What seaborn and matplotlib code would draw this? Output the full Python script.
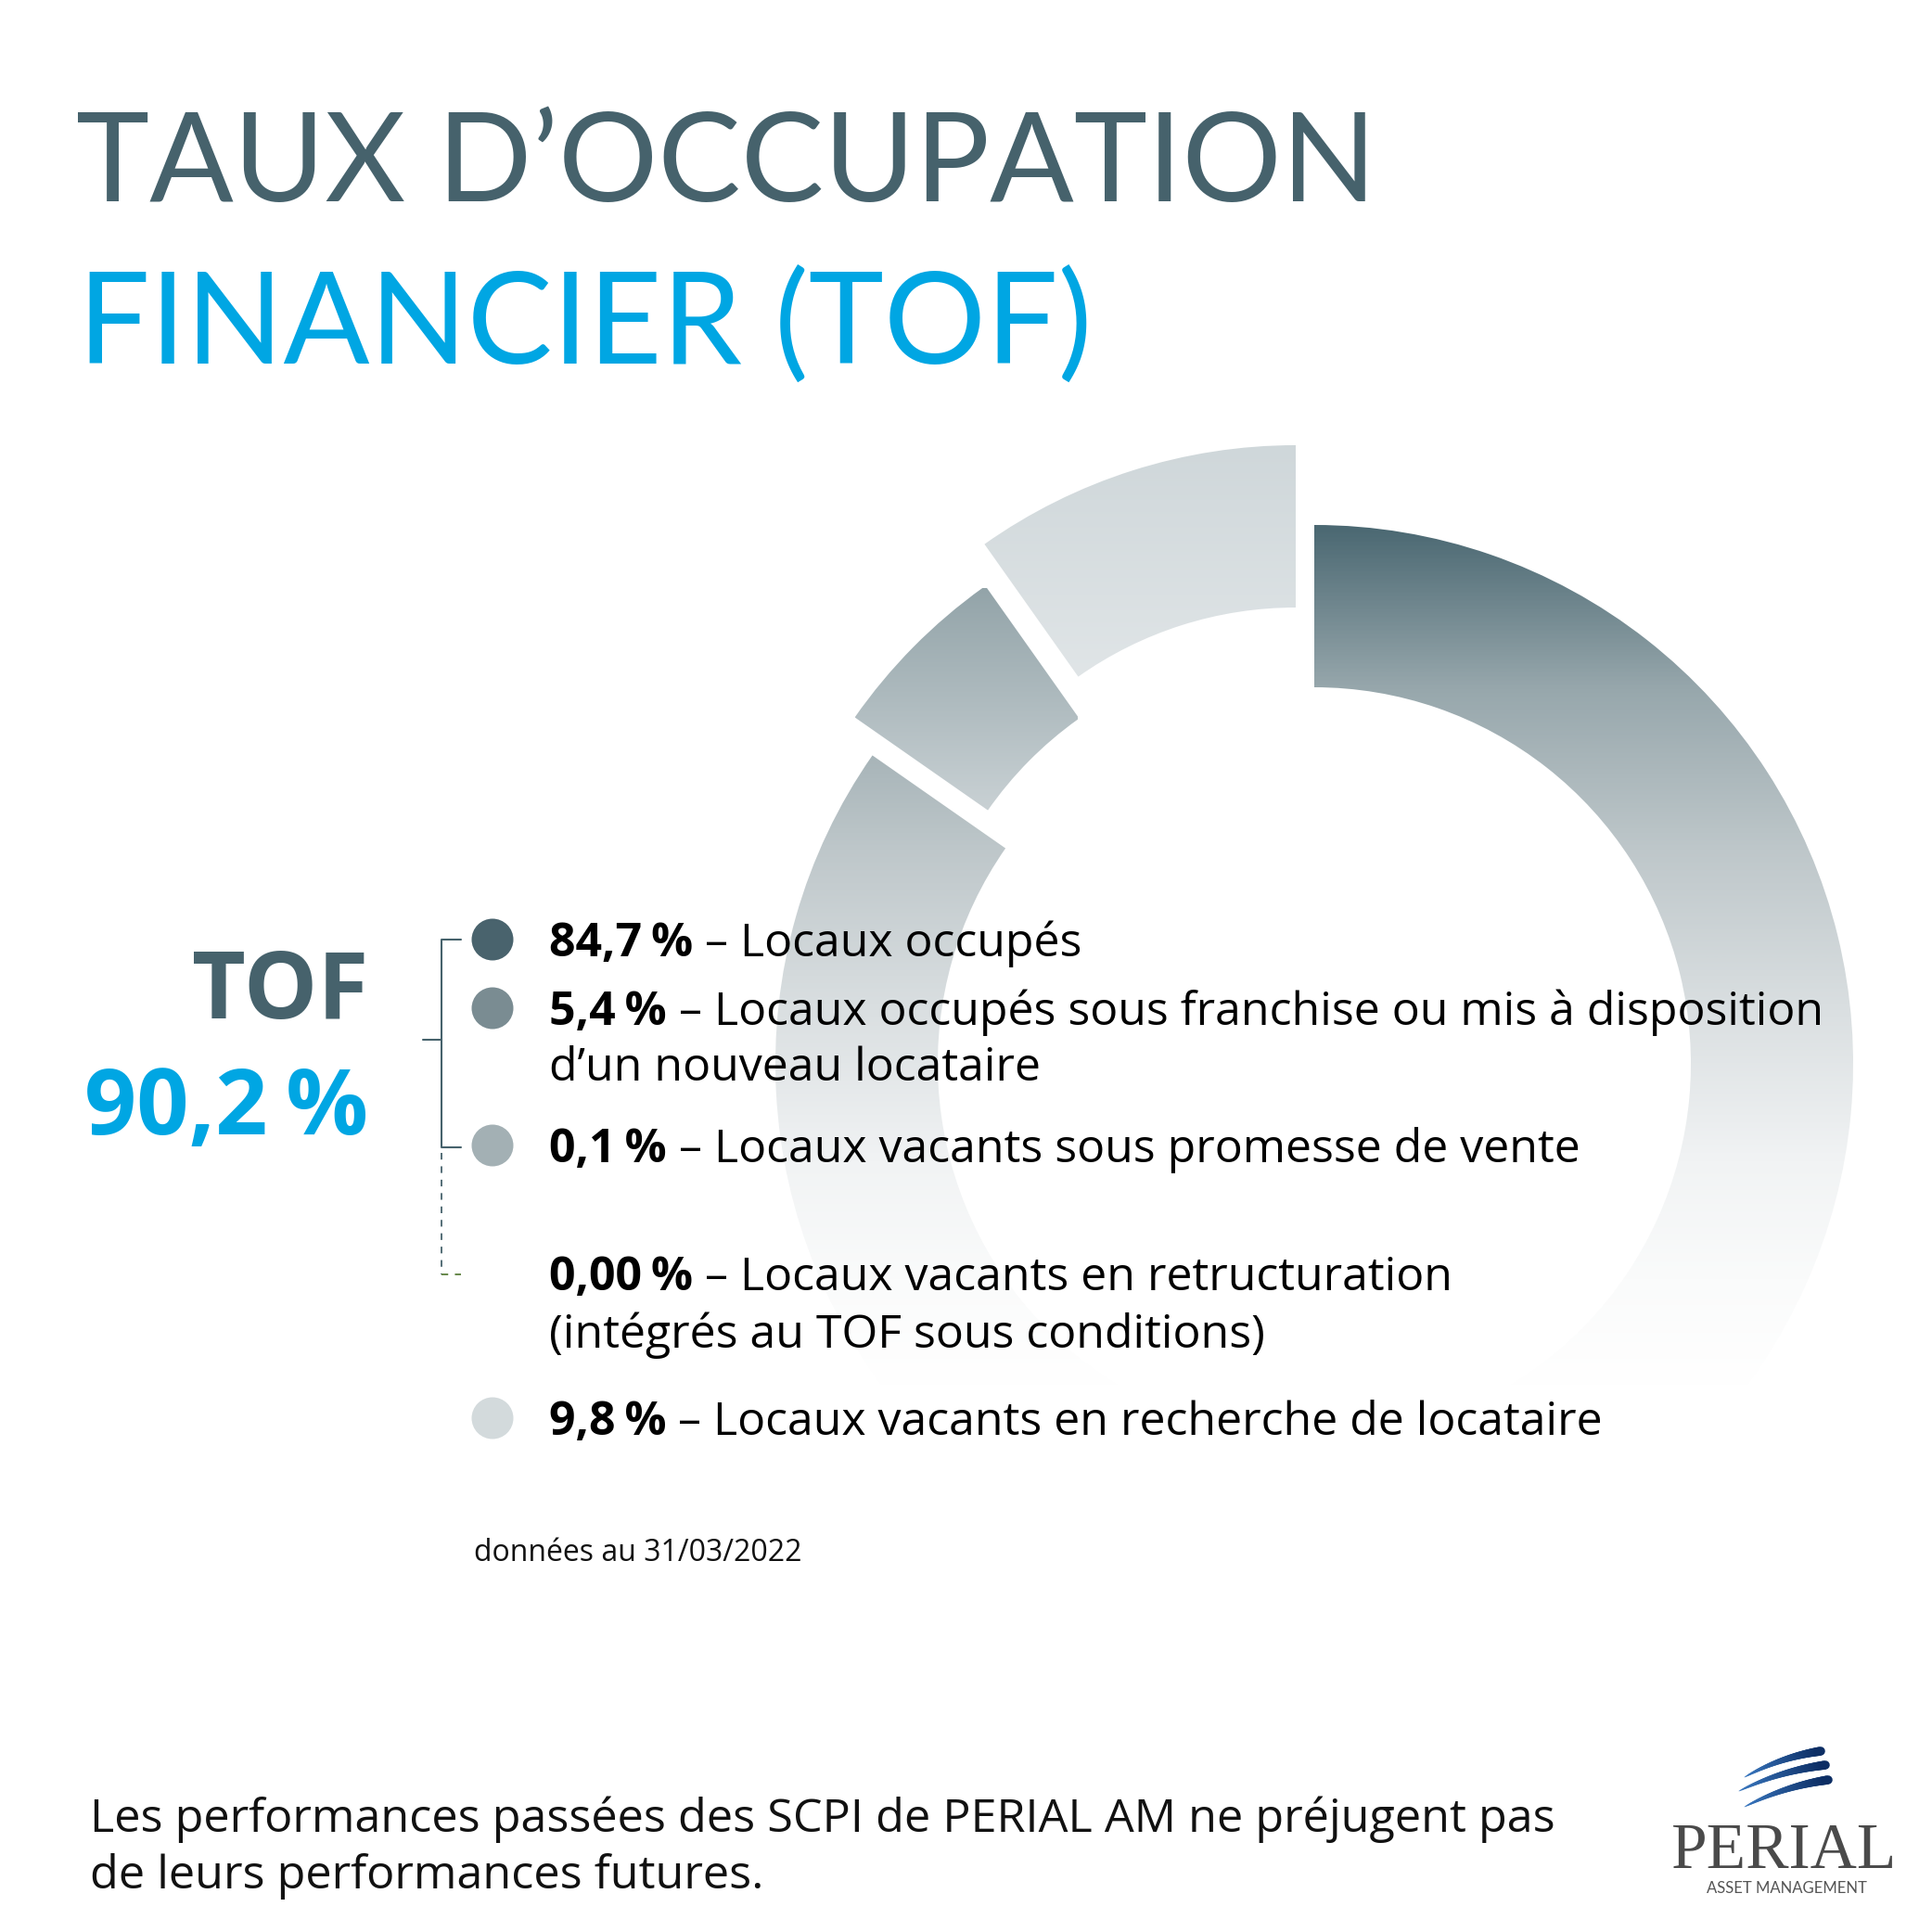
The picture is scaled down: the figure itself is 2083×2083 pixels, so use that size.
import numpy as np
import matplotlib
matplotlib.use("Agg")
import matplotlib.pyplot as plt
import seaborn as sns
from matplotlib.colors import LinearSegmentedColormap
from matplotlib.collections import LineCollection
from matplotlib.path import Path

# données (TOF au 31/03/2022)
segments = ["Locaux occupés", "Franchise / mise à disposition", "Promesse de vente", "Recherche de locataire"]
valeurs = [84.7, 5.4, 0.1, 9.8]
legende_pct = ["84,7\u2009%", "5,4\u2009%", "0,1\u2009%", "0,00\u2009%", "9,8\u2009%"]
legende_txt = [
    ["Locaux occupés"],
    ["Locaux occupés sous franchise ou mis à disposition", "d’un nouveau locataire"],
    ["Locaux vacants sous promesse de vente"],
    ["Locaux vacants en retructuration", "(intégrés au TOF sous conditions)"],
    ["Locaux vacants en recherche de locataire"],
]
legende_pastille = [True, True, True, False, True]
couleurs_pastille = ["#49636d", "#7a8c92", "#a3b0b4", None, "#d3dadc"]
titre_1 = "TAUX D’OCCUPATION"
titre_2 = "FINANCIER (TOF)"
date_txt = "données au 31/03/2022"
avertissement = ["Les performances passées des SCPI de PERIAL AM ne préjugent pas",
                 "de leurs performances futures."]

SLATE = "#46626c"
CYAN = "#00a6e3"
H = 2083
CORPS = ["Open Sans", "DejaVu Sans"]

sns.set_theme(style="white")
plt.rcParams["font.family"] = CORPS

fig = plt.figure(figsize=(H / 100, H / 100), dpi=100)

# ---- anneau
ax = fig.add_axes([0, 0, 1, 1])
cx, cy, R, W = 1417, H - 1147, 581, 175
wedges, _ = ax.pie(valeurs, startangle=90, counterclock=False, radius=R, center=(cx, cy),
                   wedgeprops=dict(width=W, linewidth=0, edgecolor="none"))

# décalages des parts (en px)
decalages = [(0, 0), (-19, 41), (-19, 41), (-20, 86)]
for w, (dx, dy) in zip(wedges, decalages):
    w.set_center((cx + dx, cy + dy))
    w.set_facecolor("none")

# dégradés verticaux ; la part de 0,1 % est fondue avec celle de 5,4 %
groupes = [
    ([0], LinearSegmentedColormap.from_list("occ", [(0, "#4b6872"), (0.15, "#97a7ac"), (0.3, "#bec7ca"),
                                                    (0.45, "#dadfe1"), (0.59, "#f1f3f4"), (0.7, "#fafbfb"),
                                                    (0.8, "#ffffff"), (1, "#ffffff")])),
    ([1, 2], sns.blend_palette(["#93a4a9", "#c9d1d4"], as_cmap=True)),
    ([3], sns.blend_palette(["#cfd7da", "#e0e5e7"], as_cmap=True)),
]
grad = np.linspace(0, 1, 512).reshape(-1, 1)
for idx, cmap in groupes:
    chemin = Path.make_compound_path(*[wedges[i].get_path() for i in idx])
    ext = wedges[idx[0]].get_path().get_extents()
    im = ax.imshow(grad, cmap=cmap, extent=(ext.x0, ext.x1, ext.y0, ext.y1),
                   origin="upper", aspect="auto", interpolation="bilinear", zorder=1)
    im.set_clip_path(chemin, transform=ax.transData)

ax.set_xlim(0, H)
ax.set_ylim(0, H)
ax.axis("off")

# ---- textes (coordonnées en px, y vers le bas)
tax = fig.add_axes([0, 0, 1, 1])
tax.set_xlim(0, H)
tax.set_ylim(H, 0)
tax.axis("off")
tax.patch.set_alpha(0)

tax.text(82, 217, titre_1, fontsize=96.5, family=["Lato", "DejaVu Sans"], color=SLATE, va="baseline")
tax.text(84, 392, titre_2, fontsize=99, family=["Lato", "DejaVu Sans"], color=CYAN, va="baseline")

tof = sum(valeurs[:3])
tax.text(397, 1098, "TOF", fontsize=72, fontweight="bold", color=SLATE, ha="right", va="baseline")
tax.text(397, 1223, f"{tof:.1f}".replace(".", ",") + "\u2009%", fontsize=71, fontweight="bold",
         color=CYAN, ha="right", va="baseline")

# accolade
tax.plot([497, 476, 476, 497], [1013, 1013, 1237, 1237], color=SLATE, lw=1.5)
tax.plot([456, 476], [1121, 1121], color=SLATE, lw=1.5)
tax.plot([476, 476], [1243, 1374], color=SLATE, lw=1.3, ls=(0, (4, 4)))
tax.plot([476, 497], [1374, 1374], color="#5b7f3c", lw=1.3, ls=(0, (4, 4)))

# légende
x_txt = 592
bases = [1031, 1105, 1253, 1391, 1547]
bases_2 = [None, 1165, None, 1453, None]
renderer = fig.canvas.get_renderer()
fs_leg = 36
for pct, lignes, b, b2 in zip(legende_pct, legende_txt, bases, bases_2):
    t = tax.text(x_txt, b, pct, fontsize=fs_leg, fontweight="bold", color="black", va="baseline")
    larg = t.get_window_extent(renderer=renderer).width
    tax.text(x_txt + larg, b, " – " + lignes[0], fontsize=fs_leg, color="black", va="baseline")
    if len(lignes) > 1:
        tax.text(x_txt, b2, lignes[1], fontsize=fs_leg, color="black", va="baseline")

y_pastilles = [b - 18 for b, p in zip(bases, legende_pastille) if p]
sns.scatterplot(x=[531] * len(y_pastilles), y=y_pastilles,
                hue=[s for s in segments], palette=[c for c in couleurs_pastille if c],
                s=1050, linewidth=0, legend=False, ax=tax, zorder=3)
tax.set_xlim(0, H)
tax.set_ylim(H, 0)
tax.axis("off")

tax.text(511, 1683, date_txt, fontsize=23, color="#111111", va="baseline")

tax.text(97, 1975, avertissement[0], fontsize=36.3, color="#111111", va="baseline")
tax.text(97, 2036, avertissement[1], fontsize=36.3, color="#111111", va="baseline")

# logo PERIAL
tax.text(1924, 2014, "PERIAL", fontsize=50, family="Liberation Serif", color="#4a4a4a",
         ha="center", va="baseline")
tax.text(1926, 2041, "ASSET MANAGEMENT", fontsize=12, family=["Lato", "DejaVu Sans"],
         color="#555555", ha="center", va="baseline")

traits = [((1881, 1916), (1963, 1888)), ((1875, 1931), (1968, 1903)), ((1881, 1948), (1971, 1919))]
cmap_logo = sns.blend_palette(["#3a78c0", "#0c2d63"], as_cmap=True)
for p0, p2 in traits:
    p0, p2 = np.array(p0, float), np.array(p2, float)
    mid = (p0 + p2) / 2
    d = p2 - p0
    nrm = np.array([d[1], -d[0]]) / np.hypot(*d)
    p1 = mid + nrm * 8
    s = np.linspace(0, 1, 60)[:, None]
    pts = (1 - s) ** 2 * p0 + 2 * (1 - s) * s * p1 + s ** 2 * p2
    segs = np.stack([pts[:-1], pts[1:]], axis=1)
    u = s[:-1, 0]
    lc = LineCollection(segs, linewidths=0.5 + 6.5 * u ** 0.7, colors=cmap_logo(u), capstyle="round")
    tax.add_collection(lc)

fig.savefig("out.png", dpi=100, facecolor="white")
